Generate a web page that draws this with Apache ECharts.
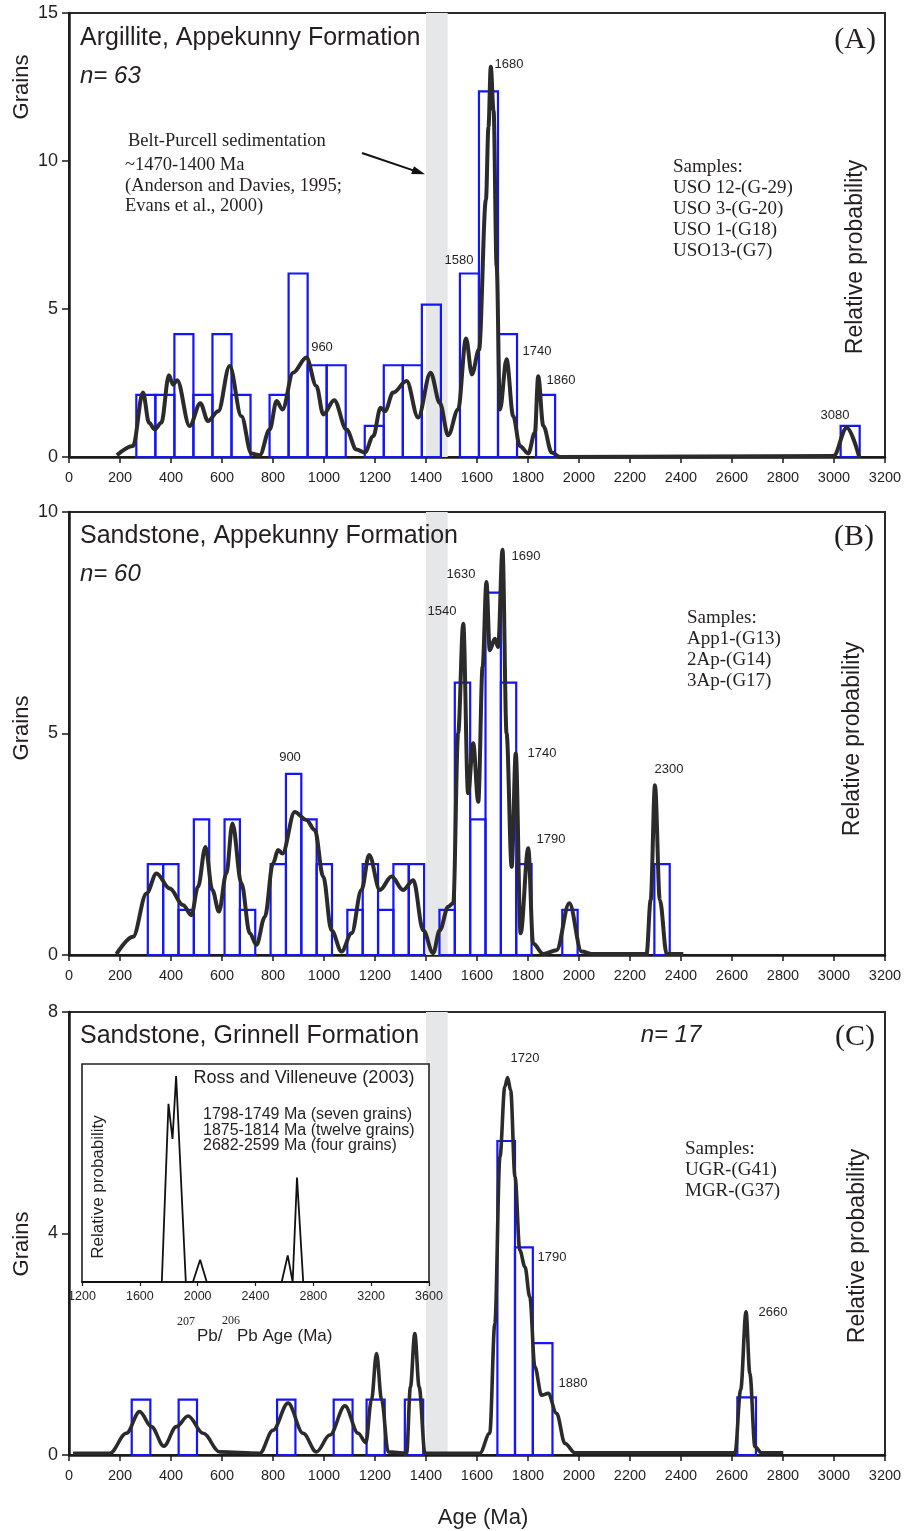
<!DOCTYPE html>
<html>
<head>
<meta charset="utf-8">
<script src="https://cdn.jsdelivr.net/npm/echarts@6/dist/echarts.min.js"></script>
<style>
  html, body { margin: 0; padding: 0; background: #fff; }
  #main { width: 907px; height: 1531px; }
</style>
</head>
<body>
<div id="main"></div>
<script>
// ---- data ----
var ageTicks = [0, 3200, 200];          // min, max, step of the age axes
var insetTicks = [1200, 3600, 400];
var beltBand = [1400, 1485];            // grey band, Ma

// panel A histogram: regular bins
var binStartA = 264, binWidthA = 74.65;
var countsA = [2.1, 2.1, 4.15, 2.1, 4.15, 2.1, 0, 2.1, 6.2, 3.1, 3.1, 0, 1.05, 3.1, 3.1, 5.15, 0, 6.2, 12.35, 4.15, 0, 2.1,
               0, 0, 0, 0, 0, 0, 0, 0, 0, 0, 0, 0, 0, 0, 0, 1.05];
// panel B histogram
var binStartB = 309, binWidthB = 60.2;
var countsB = [2.05, 2.05, 1.02, 3.06, 0, 3.06, 1.02, 0, 2.05, 4.09, 3.06, 2.05, 0, 1.02, 2.05, 1.02, 2.05, 2.05, 0, 1.02,
               6.15, 3.06, 8.18, 6.15, 2.05, 0, 0, 1.02, 0, 0, 0, 0, 0, 2.05];
// panel C histogram: bins listed by edges
var binEdgesC = [[246, 319], [430, 502], [816, 888], [1038, 1112], [1167, 1238], [1317, 1389],
                 [1680, 1749], [1749, 1819], [1819, 1896], [2621, 2694]];
var countsC = [1, 1, 1, 1, 1, 1, 5.67, 3.75, 2.02, 1.04];

// relative probability curves [age, relative probability]
var curveA = [[188,0.004],[251,0.025],[290,0.145],[314,0.077],[336,0.062],[362,0.077],[392,0.184],[408,0.163],[424,0.173],
  [473,0.070],[515,0.121],[545,0.081],[585,0.103],[630,0.205],[676,0.092],[715,0.008],[748,0.004],[787,0.062],[814,0.126],
  [837,0.107],[879,0.190],[931,0.224],[970,0.160],[997,0.096],[1040,0.128],[1088,0.062],[1127,0.017],[1160,0.010],
  [1193,0.047],[1222,0.111],[1239,0.103],[1271,0.145],[1324,0.171],[1369,0.089],[1418,0.190],[1454,0.122],[1487,0.049],
  [1526,0.107],[1557,0.267],[1580,0.186],[1608,0.242],[1635,0.579],[1645,0.744],[1654,0.879],[1665,0.78],[1677,0.43],
  [1690,0.107],[1716,0.220],[1742,0.092],[1768,0.025],[1801,0.008],[1827,0.055],[1840,0.182],[1860,0.070],[1893,0.010],
  [1925,0],[2998,0.002],[3050,0.066],[3099,0]];
var curveB = [[186,0.002],[251,0.041],[304,0.139],[343,0.184],[395,0.150],[447,0.113],[480,0.090],[506,0.154],[535,0.244],
  [562,0.147],[588,0.098],[617,0.184],[641,0.297],[676,0.162],[709,0.049],[735,0.023],[768,0.086],[800,0.207],[820,0.237],
  [837,0.229],[885,0.323],[931,0.305],[964,0.282],[997,0.177],[1029,0.056],[1069,0.008],[1108,0.049],[1147,0.147],
  [1177,0.226],[1219,0.147],[1265,0.177],[1310,0.147],[1350,0.169],[1389,0.056],[1428,0.004],[1454,0.056],[1487,0.109],
  [1507,0.117],[1526,0.500],[1546,0.748],[1565,0.365],[1585,0.478],[1605,0.346],[1622,0.650],[1637,0.842],[1650,0.688],
  [1670,0.714],[1683,0.695],[1700,0.915],[1716,0.500],[1736,0.199],[1752,0.455],[1771,0.049],[1801,0.241],[1820,0.026],
  [1860,0.002],[1912,0.011],[1962,0.117],[2010,0.008],[2056,0.002],[2265,0.002],[2281,0.124],[2298,0.383],[2317,0.124],
  [2344,0.002],[2409,0.002]];
var curveC = [[16,0.004],[160,0.004],[225,0.049],[277,0.098],[323,0.064],[372,0.020],[421,0.064],[467,0.088],[526,0.049],
  [591,0.007],[748,0.004],[800,0.056],[859,0.117],[918,0.049],[970,0.007],[1023,0.045],[1082,0.111],[1134,0.049],
  [1164,0.028],[1186,0.124],[1206,0.229],[1226,0.124],[1252,0.007],[1324,0.004],[1339,0.154],[1356,0.274],[1373,0.154],
  [1396,0.004],[1611,0.004],[1650,0.049],[1670,0.297],[1690,0.673],[1709,0.831],[1720,0.852],[1732,0.823],[1749,0.628],
  [1768,0.462],[1788,0.425],[1807,0.357],[1827,0.199],[1853,0.135],[1879,0.139],[1912,0.094],[1945,0.026],[1984,0.005],
  [2612,0.005],[2634,0.147],[2655,0.323],[2670,0.184],[2690,0.019],[2716,0.005],[2801,0.005]];
// inset, Ross and Villeneuve (2003)
var curveInset = [[1200,0],[1752,0],[1798,0.817],[1826,0.656],[1851,0.945],[1918,0],[1967,0],[2017,0.102],[2063,0],
  [2581,0],[2623,0.122],[2657,0],[2687,0.479],[2730,0],[3600,0]];

var peaksA = ['1680', '1580', '960', '1740', '1860', '3080'];
var peaksB = ['900', '1540', '1630', '1690', '1740', '1790', '2300'];
var peaksC = ['1720', '1790', '1880', '2660'];
var samplesA = ['Samples:', 'USO 12-(G-29)', 'USO 3-(G-20)', 'USO 1-(G18)', 'USO13-(G7)'];
var samplesB = ['Samples:', 'App1-(G13)', '2Ap-(G14)', '3Ap-(G17)'];
var samplesC = ['Samples:', 'UGR-(G41)', 'MGR-(G37)'];
var insetLines = ['1798-1749 Ma (seven grains)', '1875-1814 Ma (twelve grains)', '2682-2599 Ma (four grains)'];

// ---- build ----
function regularBins(start, width, counts) {
    var out = [];
    counts.forEach(function (c, i) {
        if (c > 0) out.push([start + i * width, start + (i + 1) * width, c]);
    });
    return out;
}
var barsA = regularBins(binStartA, binWidthA, countsA);
var barsB = regularBins(binStartB, binWidthB, countsB);
var barsC = binEdgesC.map(function (e, i) { return [e[0], e[1], countsC[i]]; });

var TXT = '#231f20';
var SANS = '"Liberation Sans", Arial, sans-serif';
var SERIF = '"Liberation Serif", "Times New Roman", serif';
var BLUE = '#1414ff';

var myChart = echarts.init(document.getElementById('main'), null, {renderer: 'canvas'});

function plain(v) { return String(v); }

function grid(top, height) {
    return {left: 69, width: 816, top: top, height: height, show: true, borderColor: '#2a2a2a',
            borderWidth: 2, backgroundColor: 'transparent', containLabel: false, outerBoundsMode: 'none'};
}
function ageAxis(gi) {
    return {type: 'value', gridIndex: gi, min: ageTicks[0], max: ageTicks[1], interval: ageTicks[2],
        axisLine: {show: true, onZero: false, lineStyle: {color: '#1a1a1a', width: 2.5}},
        axisTick: {show: true, inside: false, length: 6, lineStyle: {color: '#1a1a1a', width: 1.5}},
        axisLabel: {show: true, margin: 13, fontSize: 14.5, color: TXT, fontFamily: SANS, formatter: plain,
                    showMinLabel: true, showMaxLabel: true, hideOverlap: false},
        splitLine: {show: false}};
}
function grainAxis(gi, max, step) {
    return {type: 'value', gridIndex: gi, min: 0, max: max, interval: step,
        axisLine: {show: true, onZero: false, lineStyle: {color: '#1a1a1a', width: 2.5}},
        axisTick: {show: true, inside: false, length: 7, lineStyle: {color: '#1a1a1a', width: 1.5}},
        axisLabel: {show: true, margin: 11, fontSize: 18, color: TXT, fontFamily: SANS, formatter: plain,
                    showMinLabel: true, showMaxLabel: true},
        splitLine: {show: false}};
}
function probAxis(gi) {
    return {type: 'value', gridIndex: gi, min: 0, max: 1, show: false, splitLine: {show: false}};
}

function renderBar(params, api) {
    var p0 = api.coord([api.value(0), api.value(2)]);
    var p1 = api.coord([api.value(1), 0]);
    return {type: 'rect', shape: {x: p0[0], y: p0[1], width: p1[0] - p0[0], height: p1[1] - p0[1]},
            style: {fill: 'none', stroke: BLUE, lineWidth: 2.2}};
}
function bandSeries(xi, yi) {
    return {type: 'line', xAxisIndex: xi, yAxisIndex: yi, z: 1, silent: true, symbol: 'none',
        data: [[beltBand[0], 0], [beltBand[1], 0]], lineStyle: {width: 0, opacity: 0},
        markArea: {silent: true, itemStyle: {color: '#e6e7e9'}, data: [[{xAxis: beltBand[0]}, {xAxis: beltBand[1]}]]}};
}
function barSeries(data, xi, yi) {
    return {type: 'custom', xAxisIndex: xi, yAxisIndex: yi, z: 2, silent: true, renderItem: renderBar,
            encode: {x: [0, 1], y: 2}, data: data};
}
function curveSeries(data, xi, yi, w) {
    return {type: 'line', xAxisIndex: xi, yAxisIndex: yi, z: 3, silent: true, symbol: 'none', smooth: 0.35,
            smoothMonotone: 'x', data: data, lineStyle: {color: '#2b2b2b', width: w}};
}

// annotations
function t(x, y, text, size, extra) {
    var s = {text: text, fontSize: size, fontFamily: SANS, fill: TXT,
             align: 'left', textAlign: 'left', verticalAlign: 'middle', textVerticalAlign: 'middle'};
    for (var k in extra) s[k] = extra[k];
    if (s.align !== 'left') s.textAlign = s.align;
    return {type: 'text', x: x, y: y, z: 50, style: s};
}
function vt(x, y, text, size) {
    var el = t(x, y, text, size, {align: 'center'});
    el.rotation = Math.PI / 2;
    return el;
}
function serifBlock(x, top, lines, size, lh) {
    return {type: 'text', x: x, y: top, z: 50,
        style: {text: lines.join('\n'), fontSize: size, fontFamily: SERIF, fill: TXT, lineHeight: lh,
                align: 'left', textAlign: 'left', verticalAlign: 'top', textVerticalAlign: 'top'}};
}

var peakPosA = [[509, 64], [459, 260], [322, 347], [537, 351], [561, 380], [835, 415]];
var peakPosB = [[290, 757], [442, 611], [461, 574], [526, 556], [542, 753], [551, 839], [669, 769]];
var peakPosC = [[525, 1058], [552, 1257], [573, 1383], [773, 1312]];

var graphics = [];
function peakTexts(names, pos) {
    names.forEach(function (n, i) { graphics.push(t(pos[i][0], pos[i][1], n, 13, {align: 'center'})); });
}
peakTexts(peaksA, peakPosA);
peakTexts(peaksB, peakPosB);
peakTexts(peaksC, peakPosC);

graphics.push(
    t(80, 38, 'Argillite, Appekunny Formation', 25),
    t(80, 76, 'n= 63', 24, {fontStyle: 'italic'}),
    t(876, 40, '(A)', 30, {align: 'right', fontFamily: SERIF}),
    serifBlock(673, 157, samplesA, 19, 20.8),
    vt(856, 257, 'Relative probability', 23),
    vt(22, 87, 'Grains', 22),
    t(128, 141, 'Belt-Purcell sedimentation', 18.5, {fontFamily: SERIF}),
    serifBlock(125, 155, ['~1470-1400 Ma', '(Anderson and Davies, 1995;', 'Evans et al., 2000)'], 18.5, 20.5),
    {type: 'line', z: 50, shape: {x1: 362, y1: 153, x2: 414, y2: 170.6}, style: {stroke: '#111', lineWidth: 2}},
    {type: 'polygon', z: 50, shape: {points: [[425, 174.3], [411.2, 174], [414, 166.2]]}, style: {fill: '#111'}},

    t(80, 536, 'Sandstone, Appekunny Formation', 25),
    t(80, 574, 'n= 60', 24, {fontStyle: 'italic'}),
    t(874, 537, '(B)', 30, {align: 'right', fontFamily: SERIF}),
    serifBlock(687, 608, samplesB, 19, 20.8),
    vt(853, 739, 'Relative probability', 23),
    vt(22, 728, 'Grains', 22),

    t(80, 1036, 'Sandstone, Grinnell Formation', 25),
    t(671, 1035, 'n= 17', 24, {fontStyle: 'italic', align: 'center'}),
    t(875, 1037, '(C)', 30, {align: 'right', fontFamily: SERIF}),
    serifBlock(685, 1139, samplesC, 19, 20.8),
    vt(858, 1246, 'Relative probability', 23),
    vt(22, 1244, 'Grains', 22),

    t(304, 1078, 'Ross and Villeneuve (2003)', 18, {align: 'center'}),
    {type: 'text', x: 203, y: 1107, z: 50, style: {text: insetLines.join('\n'), fontSize: 16, fontFamily: SANS,
        fill: TXT, lineHeight: 15.6, align: 'left', textAlign: 'left', verticalAlign: 'top', textVerticalAlign: 'top'}},
    vt(98, 1187, 'Relative probability', 17),
    t(186, 1322, '207', 12, {align: 'center', fontFamily: SERIF}),
    t(197, 1336, 'Pb/', 17),
    t(231, 1321, '206', 12, {align: 'center', fontFamily: SERIF}),
    t(237, 1336, 'Pb Age (Ma)', 17),

    t(483, 1518, 'Age (Ma)', 22, {align: 'center'})
);

var option = {
    animation: false,
    backgroundColor: '#fff',
    grid: [grid(13, 444), grid(512, 443), grid(1012, 443),
           {left: 82, width: 347, top: 1064, height: 218, show: true, borderColor: '#222', borderWidth: 1.6,
            backgroundColor: '#fff', containLabel: false, outerBoundsMode: 'none', z: 4}],
    xAxis: [ageAxis(0), ageAxis(1), ageAxis(2),
        {type: 'value', gridIndex: 3, min: insetTicks[0], max: insetTicks[1], interval: insetTicks[2], z: 5,
         axisLine: {show: true, onZero: false, lineStyle: {color: '#1a1a1a', width: 2}},
         axisTick: {show: true, inside: false, length: 4, lineStyle: {color: '#1a1a1a', width: 1.2}},
         axisLabel: {show: true, margin: 8, fontSize: 12.5, color: TXT, fontFamily: SANS, formatter: plain,
                     showMinLabel: true, showMaxLabel: true, hideOverlap: false},
         splitLine: {show: false}}],
    yAxis: [grainAxis(0, 15, 5), probAxis(0),
            grainAxis(1, 10, 5), probAxis(1),
            grainAxis(2, 8, 4), probAxis(2),
            {type: 'value', gridIndex: 3, min: 0, max: 1, show: false, splitLine: {show: false}}],
    series: [
        bandSeries(0, 0), barSeries(barsA, 0, 0), curveSeries(curveA, 0, 1, 4),
        bandSeries(1, 2), barSeries(barsB, 1, 2), curveSeries(curveB, 1, 3, 4),
        bandSeries(2, 4), barSeries(barsC, 2, 4), curveSeries(curveC, 2, 5, 3.6),
        {type: 'line', xAxisIndex: 3, yAxisIndex: 6, z: 6, silent: true, symbol: 'none', data: curveInset,
         lineStyle: {color: '#111', width: 1.8}}
    ],
    graphic: {elements: graphics}
};
// 使用刚指定的配置项和数据显示图表。
myChart.setOption(option);
</script>
</body>
</html>
